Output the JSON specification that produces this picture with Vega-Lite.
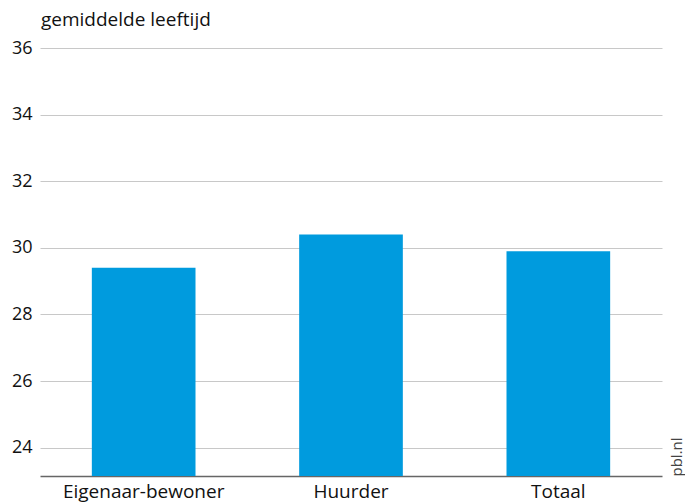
{
  "$schema": "https://vega.github.io/schema/vega-lite/v6.json",
  "autosize": "none",
  "width": 622,
  "height": 428,
  "padding": {"left": 40, "top": 48, "right": 23, "bottom": 27},
  "background": "white",
  "title": {
    "text": "gemiddelde leeftijd",
    "anchor": "start",
    "frame": "group",
    "font": "Open Sans",
    "fontSize": 19,
    "fontWeight": "normal",
    "color": "#111111",
    "offset": 9,
    "dx": 1
  },
  "data": {
    "values": [
      {"groep": "Eigenaar-bewoner", "leeftijd": 29.4},
      {"groep": "Huurder", "leeftijd": 30.4},
      {"groep": "Totaal", "leeftijd": 29.9}
    ]
  },
  "config": {
    "view": {"stroke": null},
    "font": "Open Sans"
  },
  "layer": [
    {
      "mark": {"type": "bar", "color": "#009bde", "clip": true},
      "encoding": {
        "x": {
          "field": "groep",
          "type": "nominal",
          "sort": null,
          "scale": {"paddingInner": 0.5, "paddingOuter": 0.25},
          "axis": {
            "title": null,
            "labelAngle": 0,
            "labelFont": "Open Sans",
            "labelFontSize": 19,
            "labelColor": "#111111",
            "labelPadding": 6,
            "ticks": false,
            "domainColor": "#666666",
            "domainWidth": 1.5
          }
        },
        "y": {
          "field": "leeftijd",
          "type": "quantitative",
          "scale": {"domain": [23.15, 36], "nice": false, "zero": false},
          "axis": {
            "title": null,
            "values": [24, 26, 28, 30, 32, 34, 36],
            "labelFont": "Open Sans",
            "labelFontSize": 18,
            "labelColor": "#111111",
            "labelPadding": 8,
            "ticks": false,
            "domain": false,
            "gridColor": "#c8c8c8",
            "gridWidth": 1
          }
        }
      }
    },
    {
      "mark": {"type": "bar", "opacity": 0, "clip": true},
      "encoding": {
        "x": {"field": "groep", "type": "nominal", "sort": null},
        "y": {
          "field": "leeftijd",
          "type": "quantitative",
          "axis": {
            "orient": "right",
            "title": "pbl.nl",
            "titleAngle": 270,
            "titleAnchor": "start",
            "titleAlign": "left",
            "titleBaseline": "middle",
            "titleFont": "Open Sans",
            "titleFontSize": 15,
            "titleFontWeight": "normal",
            "titleColor": "#444444",
            "titlePadding": 14,
            "labels": false,
            "ticks": false,
            "domain": false,
            "grid": false
          }
        }
      }
    }
  ],
  "resolve": {"axis": {"y": "independent"}}
}
